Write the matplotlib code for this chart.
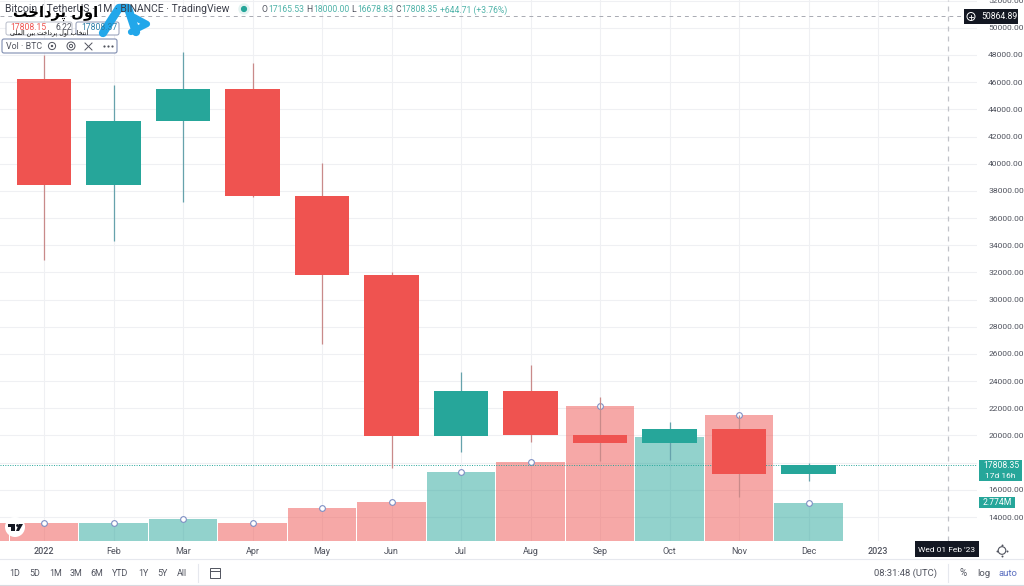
import matplotlib
matplotlib.use("Agg")
import matplotlib.pyplot as plt
from matplotlib.patches import Rectangle, FancyBboxPatch, Circle, Polygon

plt.rcParams['font.family'] = ['Roboto', 'DejaVu Sans']

# ---------- data ----------
months = ['2022', 'Feb', 'Mar', 'Apr', 'May', 'Jun', 'Jul', 'Aug', 'Sep', 'Oct', 'Nov', 'Dec', '2023']
opens = [46216, 38466, 43160, 45510, 37630, 31801, 19942, 23296, 20048, 19422, 20490, 17165.53]
highs = [47990, 45821, 48189, 47444, 40023, 32000, 24668, 25200, 22800, 20988, 21480, 18000]
lows = [32917, 34322, 37155, 37578, 26700, 17622, 18781, 19520, 18125, 18200, 15476, 16678.83]
closes = [38466, 43160, 45510, 37630, 31801, 19942, 23293, 20050, 19422, 20490, 17164, 17808.35]
volumes = [1.31, 1.31, 1.60, 1.31, 2.41, 2.85, 5.04, 5.77, 9.85, 7.60, 9.20, 2.774]
prev_volume = 1.31
price_ticks = list(range(14000, 52001, 2000))
hidden_tick = 18000  # lies under the last-price tag in the reference
last_price = 17808.35
crosshair_price = 50864.89

RED, TEAL = '#ef5350', '#26a69a'
GRID = '#eff0f3'
TXT = '#50535e'
W, H = 1024, 586
rect = [0, (H - 541) / H, 977 / W, 541 / H]
xlim = (-44 / 69.5, (977 - 44) / 69.5)
ylim = (12234, 52047)

fig = plt.figure(figsize=(W / 100, H / 100), dpi=100, facecolor='white')

# grid layer, volume layer, candle layer
bg = fig.add_axes(rect, zorder=0)
vol = fig.add_axes(rect, zorder=1)
ax = fig.add_axes(rect, zorder=2)
for a in (bg, ax):
    a.set_xlim(*xlim)
    a.set_ylim(*ylim)
vol.set_xlim(*xlim)
vol.set_ylim(0, 541 / 13.7)
vol.patch.set_visible(False)
ax.patch.set_visible(False)

bg.set_xticks(range(len(months)))
bg.set_yticks(price_ticks)
bg.tick_params(length=0, labelbottom=False, labelleft=False)
bg.grid(True, color=GRID, lw=0.8)

xs = list(range(len(opens)))

# ---------- volume ----------
vcols = [RED if c < o else TEAL for o, c in zip(opens, closes)]
vol.bar([-1], [prev_volume], width=0.985, color=RED, alpha=0.5, lw=0)
vol.bar(xs, volumes, width=0.985, color=vcols, alpha=0.5, lw=0)
vol.scatter(xs, volumes, s=17, facecolor='white', edgecolor='#7e8fc4', lw=0.8, zorder=5, clip_on=False)
vol.set_xticks([])
vol.set_yticks([])

# ---------- candles ----------
for x, o, h, l, c, col in zip(xs, opens, highs, lows, closes, vcols):
    wick = '#c98a8a' if col == RED else '#66a2ac'
    ax.vlines(x, l, h, color=wick, lw=0.9, zorder=3)
    ax.bar(x, abs(c - o), bottom=min(o, c), width=0.79, color=col, lw=0, zorder=4)

# ---------- axes ----------
ax.set_yticks(price_ticks)
ax.set_yticklabels(['' if t == hidden_tick else f'{t:.2f}' for t in price_ticks], fontsize=6.1, color=TXT)
ax.yaxis.tick_right()
ax.tick_params(axis='y', length=0, pad=8)
ax.set_xticks(range(len(months)))
ax.set_xticklabels(months, fontsize=6.5, color=TXT)
ax.tick_params(axis='x', length=0, pad=4)
ax.get_xticklabels()[0].set_fontweight('medium')
ax.get_xticklabels()[12].set_fontweight('medium')
for a in (bg, ax, vol):
    for s in a.spines.values():
        s.set_visible(False)

# last price and crosshair
ax.axhline(last_price, color=TEAL, lw=0.7, ls=(0, (1, 1.5)), zorder=2)
ax.axhline(crosshair_price, color='#a8aab2', lw=0.7, ls=(0, (4, 4)), zorder=6)
ax.axvline(13, color='#c0c2c8', lw=0.9, ls=(0, (4, 4)), zorder=6)

# ---------- interface overlay in pixels ----------
ui = fig.add_axes([0, 0, 1, 1], zorder=10)
ui.set_xlim(0, W)
ui.set_ylim(H, 0)
ui.axis('off')
ui.patch.set_visible(False)


def label(x, y, s, color=TXT, size=6.2, ha='left', **kw):
    return ui.text(x, y, s, color=color, fontsize=size, ha=ha, va='center', **kw)


# header
label(5, 9.5, 'Bitcoin / TetherUS \u00b7 1M \u00b7 BINANCE \u00b7 TradingView', color='#3c3f4a', size=7.5)
ui.add_patch(Circle((244, 9), 5, color='#e3f3f1'))
ui.add_patch(Circle((244, 9), 2.4, color=TEAL))
for x, s in [(261, 'O'), (306, 'H'), (351, 'L'), (395, 'C')]:
    label(x, 10, s, size=6.2)
for x, s in [(268, '17165.53'), (313, '18000.00'), (357, '16678.83'), (401, '17808.35'), (440, '+644.71 (+3.76%)')]:
    label(x, 10, s, color='#4fb3a9', size=6.2)

# price boxes
ui.add_patch(FancyBboxPatch((6, 22), 66, 13, boxstyle='round,pad=0,rounding_size=2', fc='white', ec='#b7bcc9', lw=0.7))
ui.add_patch(FancyBboxPatch((76, 22), 43, 13, boxstyle='round,pad=0,rounding_size=2', fc='white', ec='#8f9ab5', lw=0.7))
label(10, 27, '17808.15', color=RED, size=6.2)
label(55, 27, '6.22', size=6.2)
label(81, 27, '17808.37', color='#2a7ea8', size=6.2)

# indicator box
ui.add_patch(FancyBboxPatch((2, 39), 115, 14, boxstyle='round,pad=0,rounding_size=2', fc='white', ec='#7f8db0', lw=0.8))
label(6, 46.5, 'Vol \u00b7 BTC', size=6.4)
ui.add_patch(Circle((52, 46), 3.6, fc='none', ec=TXT, lw=0.7))
ui.add_patch(Circle((52, 46), 1.2, fc=TXT, lw=0))
ui.add_patch(Circle((71, 46), 4, fc='none', ec=TXT, lw=0.7))
ui.add_patch(Circle((71, 46), 1.6, fc='none', ec=TXT, lw=0.7))
ui.plot([85, 92], [43, 50], color=TXT, lw=0.7)
ui.plot([85, 92], [50, 43], color=TXT, lw=0.7)
ui.scatter([104, 108, 112], [46, 46, 46], s=2.5, color=TXT, lw=0)

# logo
logo_blue = '#22a7ea'
ui.plot([103, 119, 128, 136], [33, 8, 8, 32], color=logo_blue, lw=6, solid_capstyle='round', solid_joinstyle='round')
ui.plot([134, 147, 131], [17, 24, 32], color=logo_blue, lw=4.5, solid_capstyle='round', solid_joinstyle='round')
logo_name = '\ufe96\ufea7\ufe8d\ufea9\ufeae\ufb58 \ufedd\ufeed\ufe8d'
logo_tag = ('\ufef0\ufee0\ufee4\ufedf\ufe8d \ufee6\ufef4\ufe91 \ufe96\ufea7\ufe8d\ufea9\ufeae\ufb58 '
            '\ufedd\ufeed\ufe8d \ufe8f\ufe8e\ufea8\ufe98\ufee7\ufe8d')
ui.text(56, 13, logo_name, color='black', fontsize=10.5, fontweight='bold', family='DejaVu Sans', ha='center', va='center')
ui.text(49, 33, logo_tag, color='black', fontsize=4.6, family='DejaVu Sans', ha='center', va='center')

# right side tags
ui.add_patch(Rectangle((964, 9), 54, 15, color='#131722', lw=0))
ui.add_patch(Circle((971, 16.5), 4, fc='none', ec='white', lw=0.7))
ui.plot([969, 973], [16.5, 16.5], color='white', lw=0.6)
ui.plot([971, 971], [14.5, 18.5], color='white', lw=0.6)
label(999, 16.5, '50864.89', color='white', size=6.2, ha='center')
ui.add_patch(Rectangle((979, 460), 43, 21, color=TEAL, lw=0))
label(1001, 465.5, '17808.35', color='white', size=6.2, ha='center')
label(1000, 475.5, '17d 16h', color='white', size=6, ha='center')
ui.add_patch(Rectangle((979, 497), 36, 11, color=TEAL, lw=0))
label(997, 502.5, '2.774M', color='white', size=6.2, ha='center')
ui.add_patch(Rectangle((915, 541), 64, 16, color='#131722', lw=0))
label(947, 549.5, "Wed 01 Feb '23", color='white', size=6, ha='center')

# TradingView badge and settings icon
ui.add_patch(Circle((15, 527), 10, color='white', lw=0))
ui.add_patch(Rectangle((8, 524), 7, 3, color='#131722', lw=0))
ui.add_patch(Rectangle((11, 524), 3.5, 7, color='#131722', lw=0))
ui.add_patch(Circle((17.5, 525.5), 1.4, color='#131722', lw=0))
ui.add_patch(Polygon([(19, 524), (23, 524), (19, 531), (16, 531)], color='#131722', lw=0))
ui.add_patch(Circle((1002, 550.5), 3.8, fc='none', ec=TXT, lw=0.8))
ui.scatter([1002, 1002, 997, 1007], [545, 556, 550.5, 550.5], s=2, color=TXT, lw=0)

# bottom toolbar
ui.plot([0, W], [559, 559], color='#e6e8ee', lw=0.8)
ui.plot([0, W], [585, 585], color='#d8dae0', lw=0.8)
for x, s in zip([15, 35, 56, 76, 97, 120, 143, 162, 182],
                ['1D', '5D', '1M', '3M', '6M', 'YTD', '1Y', '5Y', 'All']):
    label(x, 573, s, size=6.4, ha='center')
ui.plot([198, 198], [564, 582], color='#e6e8ee', lw=0.8)
ui.plot([948, 948], [564, 582], color='#e6e8ee', lw=0.8)
ui.add_patch(Rectangle((210, 568), 10, 10, fc='none', ec=TXT, lw=0.7))
ui.plot([210, 220], [571, 571], color=TXT, lw=0.7)
label(906, 573, '08:31:48 (UTC)', size=6.8, ha='center')
label(963, 573, '%', size=7, ha='center')
label(984, 573, 'log', size=6.8, ha='center')
label(1008, 573, 'auto', color='#5b6fc0', size=6.8, ha='center')

fig.savefig('out.png', dpi=100, facecolor='white')
